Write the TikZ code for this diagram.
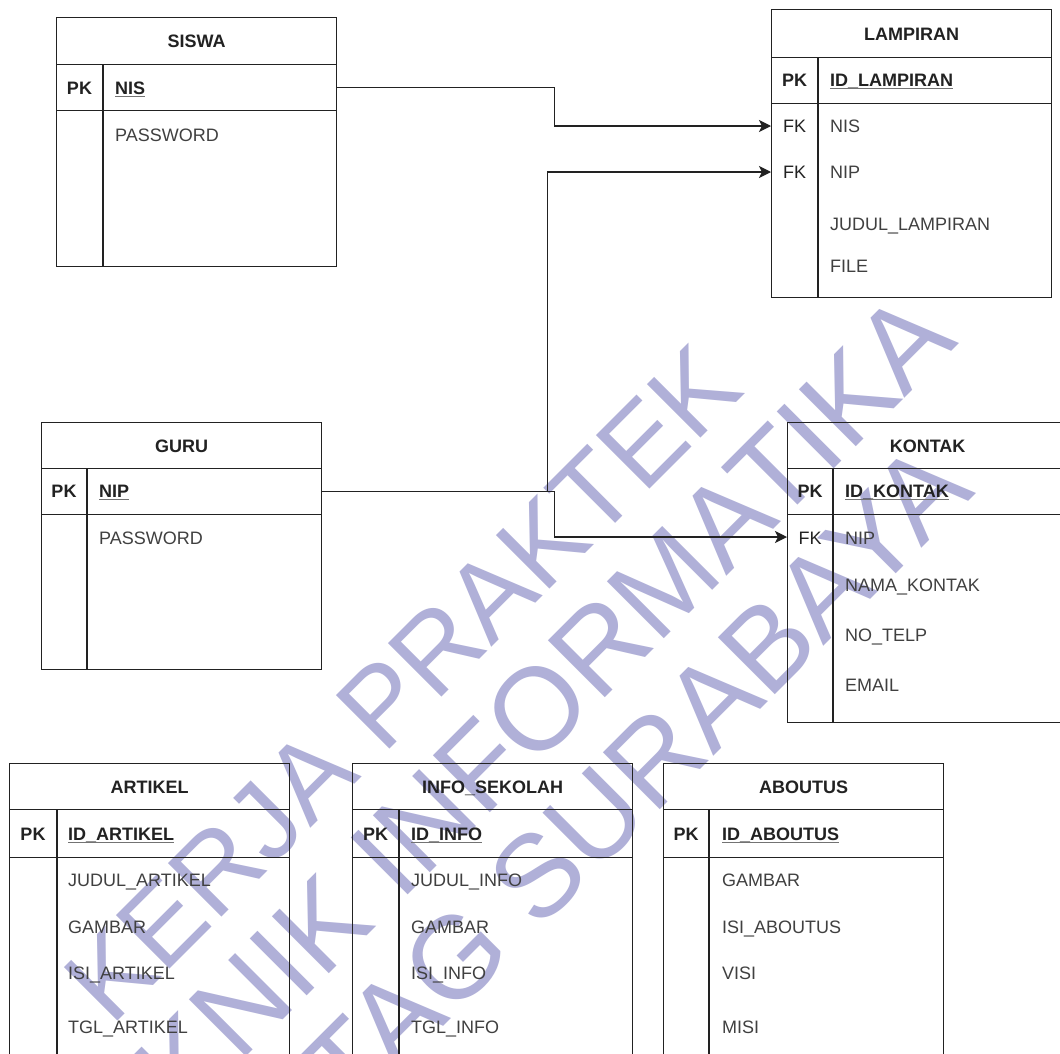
\documentclass[tikz,border=0pt]{standalone}
\usepackage{fontspec}
\setmainfont{Liberation Sans}
\usetikzlibrary{arrows.meta}
\definecolor{wmc}{RGB}{176,176,216}
\definecolor{inkc}{RGB}{34,34,34}
\begin{document}
\begin{tikzpicture}[x=1pt,y=-1pt,
  ln/.style={draw=inkc, line width=1.3pt},
  tcell/.style={ln, rectangle, inner sep=0pt, anchor=north west, minimum width=280pt},
  ttl/.style={font=\bfseries\fontsize{18}{20}\selectfont, text=inkc, text height=13pt, text depth=0pt},
  keyt/.style={font=\bfseries\fontsize{18}{20}\selectfont, text=inkc, inner sep=0pt, anchor=base},
  fkt/.style={font=\fontsize{18}{20}\selectfont, text=inkc, inner sep=0pt, anchor=base},
  fld/.style={font=\fontsize{18}{20}\selectfont, text=black!75, inner sep=0pt, anchor=base west},
  pkf/.style={font=\bfseries\fontsize{18}{20}\selectfont, text=inkc, inner sep=0pt, anchor=base west},
  ulin/.style={draw=black!55, line width=0.9pt},
  rowslot/.style={inner sep=0pt, minimum height=46pt, minimum width=280pt, anchor=west},
  rel/.style={draw=inkc, line width=1.3pt},
  arr/.style={rel, -{Stealth[length=12pt,width=12pt,inset=3pt]}},
  wm/.style={font=\fontsize{110}{120}\selectfont, text=wmc, inner sep=0pt, anchor=base east, rotate=45},
  wmb/.style={wm, font=\fontsize{117}{125}\selectfont}
]
\useasboundingbox (0,0) rectangle (1060,1053);
\clip (0,0) rectangle (1060,1053);
\fill[white] (0,0) rectangle (1060,1053);

% watermark
\node[wm] (wm1) at (747,392) {KERJA PRAKTEK};
\node[wmb] (wm2) at (960,343) {TEKNIK INFORMATIKA};
\node[wmb] (wm3) at (977,493) {UNTAG SURABAYA};

% ---------- SISWA ----------
\node[tcell, ttl, minimum height=47pt] (siswa) at (56,17) {SISWA};
\node[tcell, minimum height=46pt] (siswaPK) at (56,64) {};
\node[tcell, minimum height=156pt] (siswaB) at (56,110) {};
\draw[ln] (103,64) -- (103,266);
\node[keyt] (siswaK) at (79.5,94.5) {PK};
\node[pkf] (siswaNIS) at (115,94.5) {NIS};
\draw[ulin] ([yshift=-2pt]siswaNIS.base west) -- ([yshift=-2pt]siswaNIS.base east);
\node[fld] (siswaPW) at (115,141) {PASSWORD};

% ---------- LAMPIRAN ----------
\node[tcell, ttl, minimum height=48pt] (lamp) at (771,9) {LAMPIRAN};
\node[tcell, minimum height=46pt] (lampPK) at (771,57) {};
\node[tcell, minimum height=194pt] (lampB) at (771,103) {};
\draw[ln] (818,57) -- (818,297);
\node[keyt] (lampK) at (794.5,86.5) {PK};
\node[pkf] (lampID) at (830,86.5) {ID\_LAMPIRAN};
\draw[ulin] ([yshift=-2pt]lampID.base west) -- ([yshift=-2pt]lampID.base east);
\node[rowslot] (lampNIS) at (771,126) {};
\node[rowslot] (lampNIP) at (771,172) {};
\node[fkt] (lampFK1) at (794.5,132.5) {FK};
\node[fld] (lampF1) at (830,132.5) {NIS};
\node[fkt] (lampFK2) at (794.5,178.5) {FK};
\node[fld] (lampF2) at (830,178.5) {NIP};
\node[fld] (lampF3) at (830,230.5) {JUDUL\_LAMPIRAN};
\node[fld] (lampF4) at (830,272.5) {FILE};

% ---------- GURU ----------
\node[tcell, ttl, minimum height=46pt] (guru) at (41,422) {GURU};
\node[tcell, minimum height=46pt] (guruPK) at (41,468) {};
\node[tcell, minimum height=155pt] (guruB) at (41,514) {};
\draw[ln] (87,468) -- (87,669);
\node[keyt] (guruK) at (64,497.5) {PK};
\node[pkf] (guruNIP) at (99,497.5) {NIP};
\draw[ulin] ([yshift=-2pt]guruNIP.base west) -- ([yshift=-2pt]guruNIP.base east);
\node[fld] (guruPW) at (99,544.5) {PASSWORD};

% ---------- KONTAK ----------
\node[tcell, ttl, minimum height=46pt] (kontak) at (787,422) {KONTAK};
\node[tcell, minimum height=46pt] (kontakPK) at (787,468) {};
\node[tcell, minimum height=208pt] (kontakB) at (787,514) {};
\draw[ln] (833,468) -- (833,722);
\node[keyt] (kontakK) at (810,497.5) {PK};
\node[pkf] (kontakID) at (845,497.5) {ID\_KONTAK};
\draw[ulin] ([yshift=-2pt]kontakID.base west) -- ([yshift=-2pt]kontakID.base east);
\node[rowslot] (kontakNIP) at (787,537) {};
\node[fkt] (kontakFK) at (810,544) {FK};
\node[fld] (kontakF1) at (845,544) {NIP};
\node[fld] (kontakF2) at (845,591) {NAMA\_KONTAK};
\node[fld] (kontakF3) at (845,641.5) {NO\_TELP};
\node[fld] (kontakF4) at (845,691.5) {EMAIL};

% ---------- ARTIKEL ----------
\node[tcell, ttl, minimum height=46pt] (artikel) at (9,763) {ARTIKEL};
\node[tcell, minimum height=48pt] (artikelPK) at (9,809) {};
\node[tcell, minimum height=300pt] (artikelB) at (9,857) {};
\draw[ln] (57,809) -- (57,1160);
\node[keyt] (artikelK) at (33,840) {PK};
\node[pkf] (artikelID) at (68,840) {ID\_ARTIKEL};
\draw[ulin] ([yshift=-2pt]artikelID.base west) -- ([yshift=-2pt]artikelID.base east);
\node[fld] (artikelF1) at (68,886.5) {JUDUL\_ARTIKEL};
\node[fld] (artikelF2) at (68,933) {GAMBAR};
\node[fld] (artikelF3) at (68,979.5) {ISI\_ARTIKEL};
\node[fld] (artikelF4) at (68,1033.5) {TGL\_ARTIKEL};

% ---------- INFO_SEKOLAH ----------
\node[tcell, ttl, minimum height=46pt] (info) at (352,763) {INFO\_SEKOLAH};
\node[tcell, minimum height=48pt] (infoPK) at (352,809) {};
\node[tcell, minimum height=300pt] (infoB) at (352,857) {};
\draw[ln] (399,809) -- (399,1160);
\node[keyt] (infoK) at (375.5,840) {PK};
\node[pkf] (infoID) at (411,840) {ID\_INFO};
\draw[ulin] ([yshift=-2pt]infoID.base west) -- ([yshift=-2pt]infoID.base east);
\node[fld] (infoF1) at (411,886.5) {JUDUL\_INFO};
\node[fld] (infoF2) at (411,933) {GAMBAR};
\node[fld] (infoF3) at (411,979.5) {ISI\_INFO};
\node[fld] (infoF4) at (411,1033.5) {TGL\_INFO};

% ---------- ABOUTUS ----------
\node[tcell, ttl, minimum height=46pt] (about) at (663,763) {ABOUTUS};
\node[tcell, minimum height=48pt] (aboutPK) at (663,809) {};
\node[tcell, minimum height=300pt] (aboutB) at (663,857) {};
\draw[ln] (709,809) -- (709,1160);
\node[keyt] (aboutK) at (686,840) {PK};
\node[pkf] (aboutID) at (722,840) {ID\_ABOUTUS};
\draw[ulin] ([yshift=-2pt]aboutID.base west) -- ([yshift=-2pt]aboutID.base east);
\node[fld] (aboutF1) at (722,886.5) {GAMBAR};
\node[fld] (aboutF2) at (722,933) {ISI\_ABOUTUS};
\node[fld] (aboutF3) at (722,979.5) {VISI};
\node[fld] (aboutF4) at (722,1033.5) {MISI};

% ---------- relations ----------
\draw[arr] (siswaPK.east) -- ++(217,0) |- (lampNIS.west);
\draw[arr] (guruPK.east) -- ++(225,0) |- (lampNIP.west);
\draw[arr] (guruPK.east) -- ++(232,0) |- (kontakNIP.west);
\end{tikzpicture}
\end{document}
